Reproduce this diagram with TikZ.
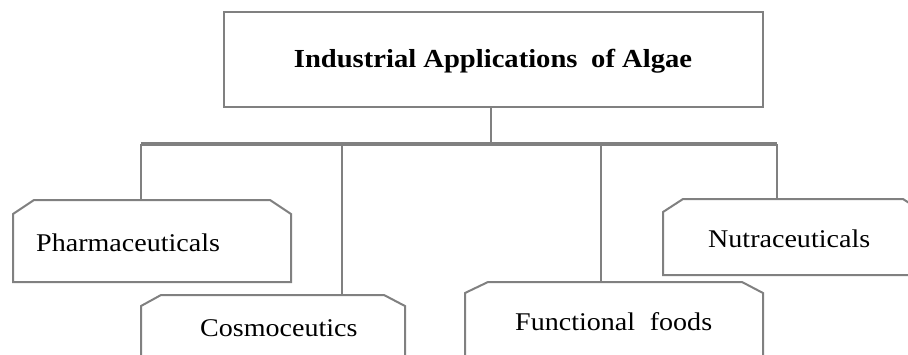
\documentclass[tikz,border=0pt]{standalone}
\usepackage{fontspec}
\setmainfont{Liberation Serif}[FakeStretch=1.1]
\usetikzlibrary{calc}
\definecolor{linegray}{RGB}{128,128,128}
\begin{document}
\begin{tikzpicture}[x=1pt,y=-1pt,line join=miter,
  frame/.style={draw=linegray,line width=2.6pt,inner sep=0pt},
  edge/.style={draw=linegray,line width=2pt},
  busline/.style={draw=linegray,line width=4.5pt},
  chbox/.style={draw=linegray,line width=2pt,fill=white},
  lbl/.style={anchor=base west,inner sep=0pt,font=\fontsize{25.5}{30}\selectfont},
  ttl/.style={font=\fontsize{26}{31}\selectfont\bfseries}]
\useasboundingbox (0,0) rectangle (908,354);
\clip (0,0) rectangle (908,354);
% title box
\node[frame,minimum width=539pt,minimum height=95pt] (title) at (493.5,59.5) {};
\node[ttl,inner sep=0pt,anchor=base] (ttltext) at (493,67) {Industrial Applications\hspace{0.25em} of Algae};
% bus
\coordinate (hub) at (491,144);
\coordinate (busL) at (141,144);
\coordinate (busR) at (777,144);
\draw[edge] (title.south -| hub) -- (hub);
\draw[busline] (busL) -- (busR);
% chamfered boxes
\draw[chbox] (13,282) -- (13,214) -- (34,200) -- (270,200) -- (291,214) -- (291,282) -- cycle;
\draw[chbox] (141,380) -- (141,306) -- (161,295) -- (384,295) -- (405,306) -- (405,380) -- cycle;
\draw[chbox] (465,380) -- (465,293) -- (488,282) -- (742,282) -- (763,293) -- (763,380) -- cycle;
\draw[chbox] (663,275) -- (663,212) -- (683,199) -- (903,199) -- (923,212) -- (923,275) -- cycle;
% box top attachment points
\coordinate (phtop) at (141,200);
\coordinate (cmtop) at (342,295);
\coordinate (fftop) at (601,282);
\coordinate (nutop) at (777,199);
% connectors
\draw[edge] (busL) -- (phtop);
\draw[edge] (cmtop |- hub) -- (cmtop);
\draw[edge] (fftop |- hub) -- (fftop);
\draw[edge] (busR) -- (nutop);
% labels
\node[lbl] (ph) at (36,251) {Pharmaceuticals};
\node[lbl] (cm) at (200,336) {Cosmoceutics};
\node[lbl] (ff) at (515,330) {Functional\hspace{0.3em} foods};
\node[lbl] (nu) at (708,247) {Nutraceuticals};
\end{tikzpicture}
\end{document}
